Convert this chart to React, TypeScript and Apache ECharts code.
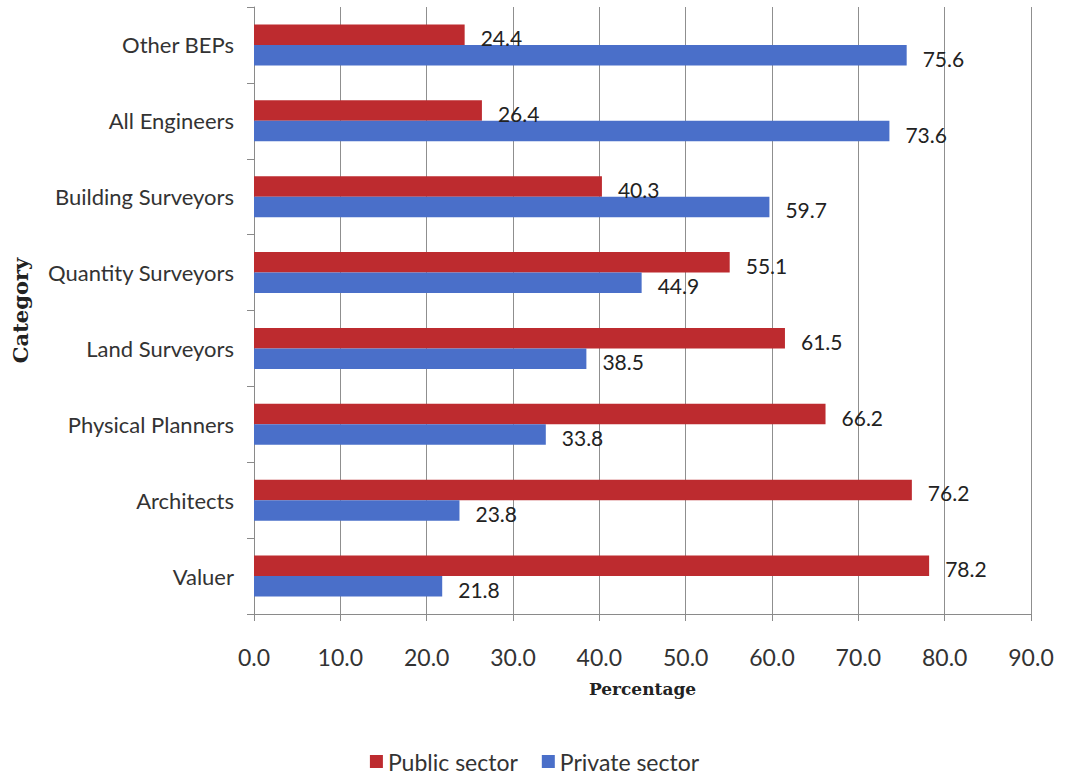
import React, { useEffect, useRef } from "react";
import * as echarts from "echarts";

const categories = [
  "Valuer",
  "Architects",
  "Physical Planners",
  "Land Surveyors",
  "Quantity Surveyors",
  "Building Surveyors",
  "All Engineers",
  "Other BEPs",
];
const publicSector = [78.2, 76.2, 66.2, 61.5, 55.1, 40.3, 26.4, 24.4];
const privateSector = [21.8, 23.8, 33.8, 38.5, 44.9, 59.7, 73.6, 75.6];
const xTicks = { min: 0, max: 90, interval: 10 };

const FONT = "Lato, 'Open Sans', sans-serif";
const SERIF = "'DejaVu Serif', 'Liberation Serif', serif";

export default function App() {
  const ref = useRef<HTMLDivElement>(null);
  useEffect(() => {
    if (!ref.current) return;
    const chart = echarts.init(ref.current, null, { renderer: "svg" });
    const labelCfg = {
      show: true,
      position: "right" as const,
      distance: 16,
      offset: [0, 3],
      color: "#222",
      fontSize: 21,
      fontFamily: FONT,
      formatter: (p: any) => Number(p.value).toFixed(1),
    };
    chart.setOption({
      animation: false,
      backgroundColor: "#ffffff",
      grid: {
        left: 254,
        right: 38,
        top: 7,
        bottom: 161,
        containLabel: false,
        outerBoundsMode: "none",
      },
      legend: {
        bottom: -3,
        left: "center",
        itemWidth: 13,
        itemHeight: 13,
        itemGap: 24,
        icon: "rect",
        textStyle: { fontSize: 23, color: "#333", fontFamily: FONT },
        data: ["Public sector", "Private sector"],
      },
      xAxis: {
        type: "value",
        min: xTicks.min,
        max: xTicks.max,
        interval: xTicks.interval,
        name: "Percentage",
        nameLocation: "middle",
        nameGap: 66,
        nameTextStyle: {
          fontFamily: SERIF,
          fontWeight: "bold",
          fontSize: 17,
          color: "#222",
        },
        axisLine: { show: true, lineStyle: { color: "#8a8a8a", width: 1 } },
        axisTick: { show: true, length: 7, lineStyle: { color: "#8a8a8a" } },
        axisLabel: {
          margin: 31,
          fontSize: 23,
          color: "#333",
          fontFamily: FONT,
          formatter: (v: number) => v.toFixed(1),
        },
        splitLine: { show: true, lineStyle: { color: "#8f8f8f", width: 1 } },
      },
      yAxis: {
        type: "category",
        data: categories,
        name: "Category",
        nameLocation: "middle",
        nameRotate: 90,
        nameGap: 223,
        nameTextStyle: {
          fontFamily: SERIF,
          fontWeight: "bold",
          fontSize: 21,
          color: "#222",
        },
        axisLine: { show: true, lineStyle: { color: "#8a8a8a", width: 1 } },
        axisTick: { show: true, length: 7, lineStyle: { color: "#8a8a8a" } },
        axisLabel: { margin: 20, fontSize: 22, color: "#333", fontFamily: FONT },
        splitLine: { show: false },
      },
      series: [
        {
          name: "Public sector",
          type: "bar",
          data: publicSector,
          itemStyle: { color: "#BD2B2F" },
          barGap: "0%",
          barCategoryGap: "46%",
          label: labelCfg,
        },
        {
          name: "Private sector",
          type: "bar",
          data: privateSector,
          itemStyle: { color: "#4A6FC9" },
          barGap: "0%",
          barCategoryGap: "46%",
          label: labelCfg,
        },
      ],
    });
    return () => chart.dispose();
  }, []);
  return (
    <div
      ref={ref}
      style={{ position: "fixed", left: 0, top: 0, width: 1069, height: 775 }}
    />
  );
}
